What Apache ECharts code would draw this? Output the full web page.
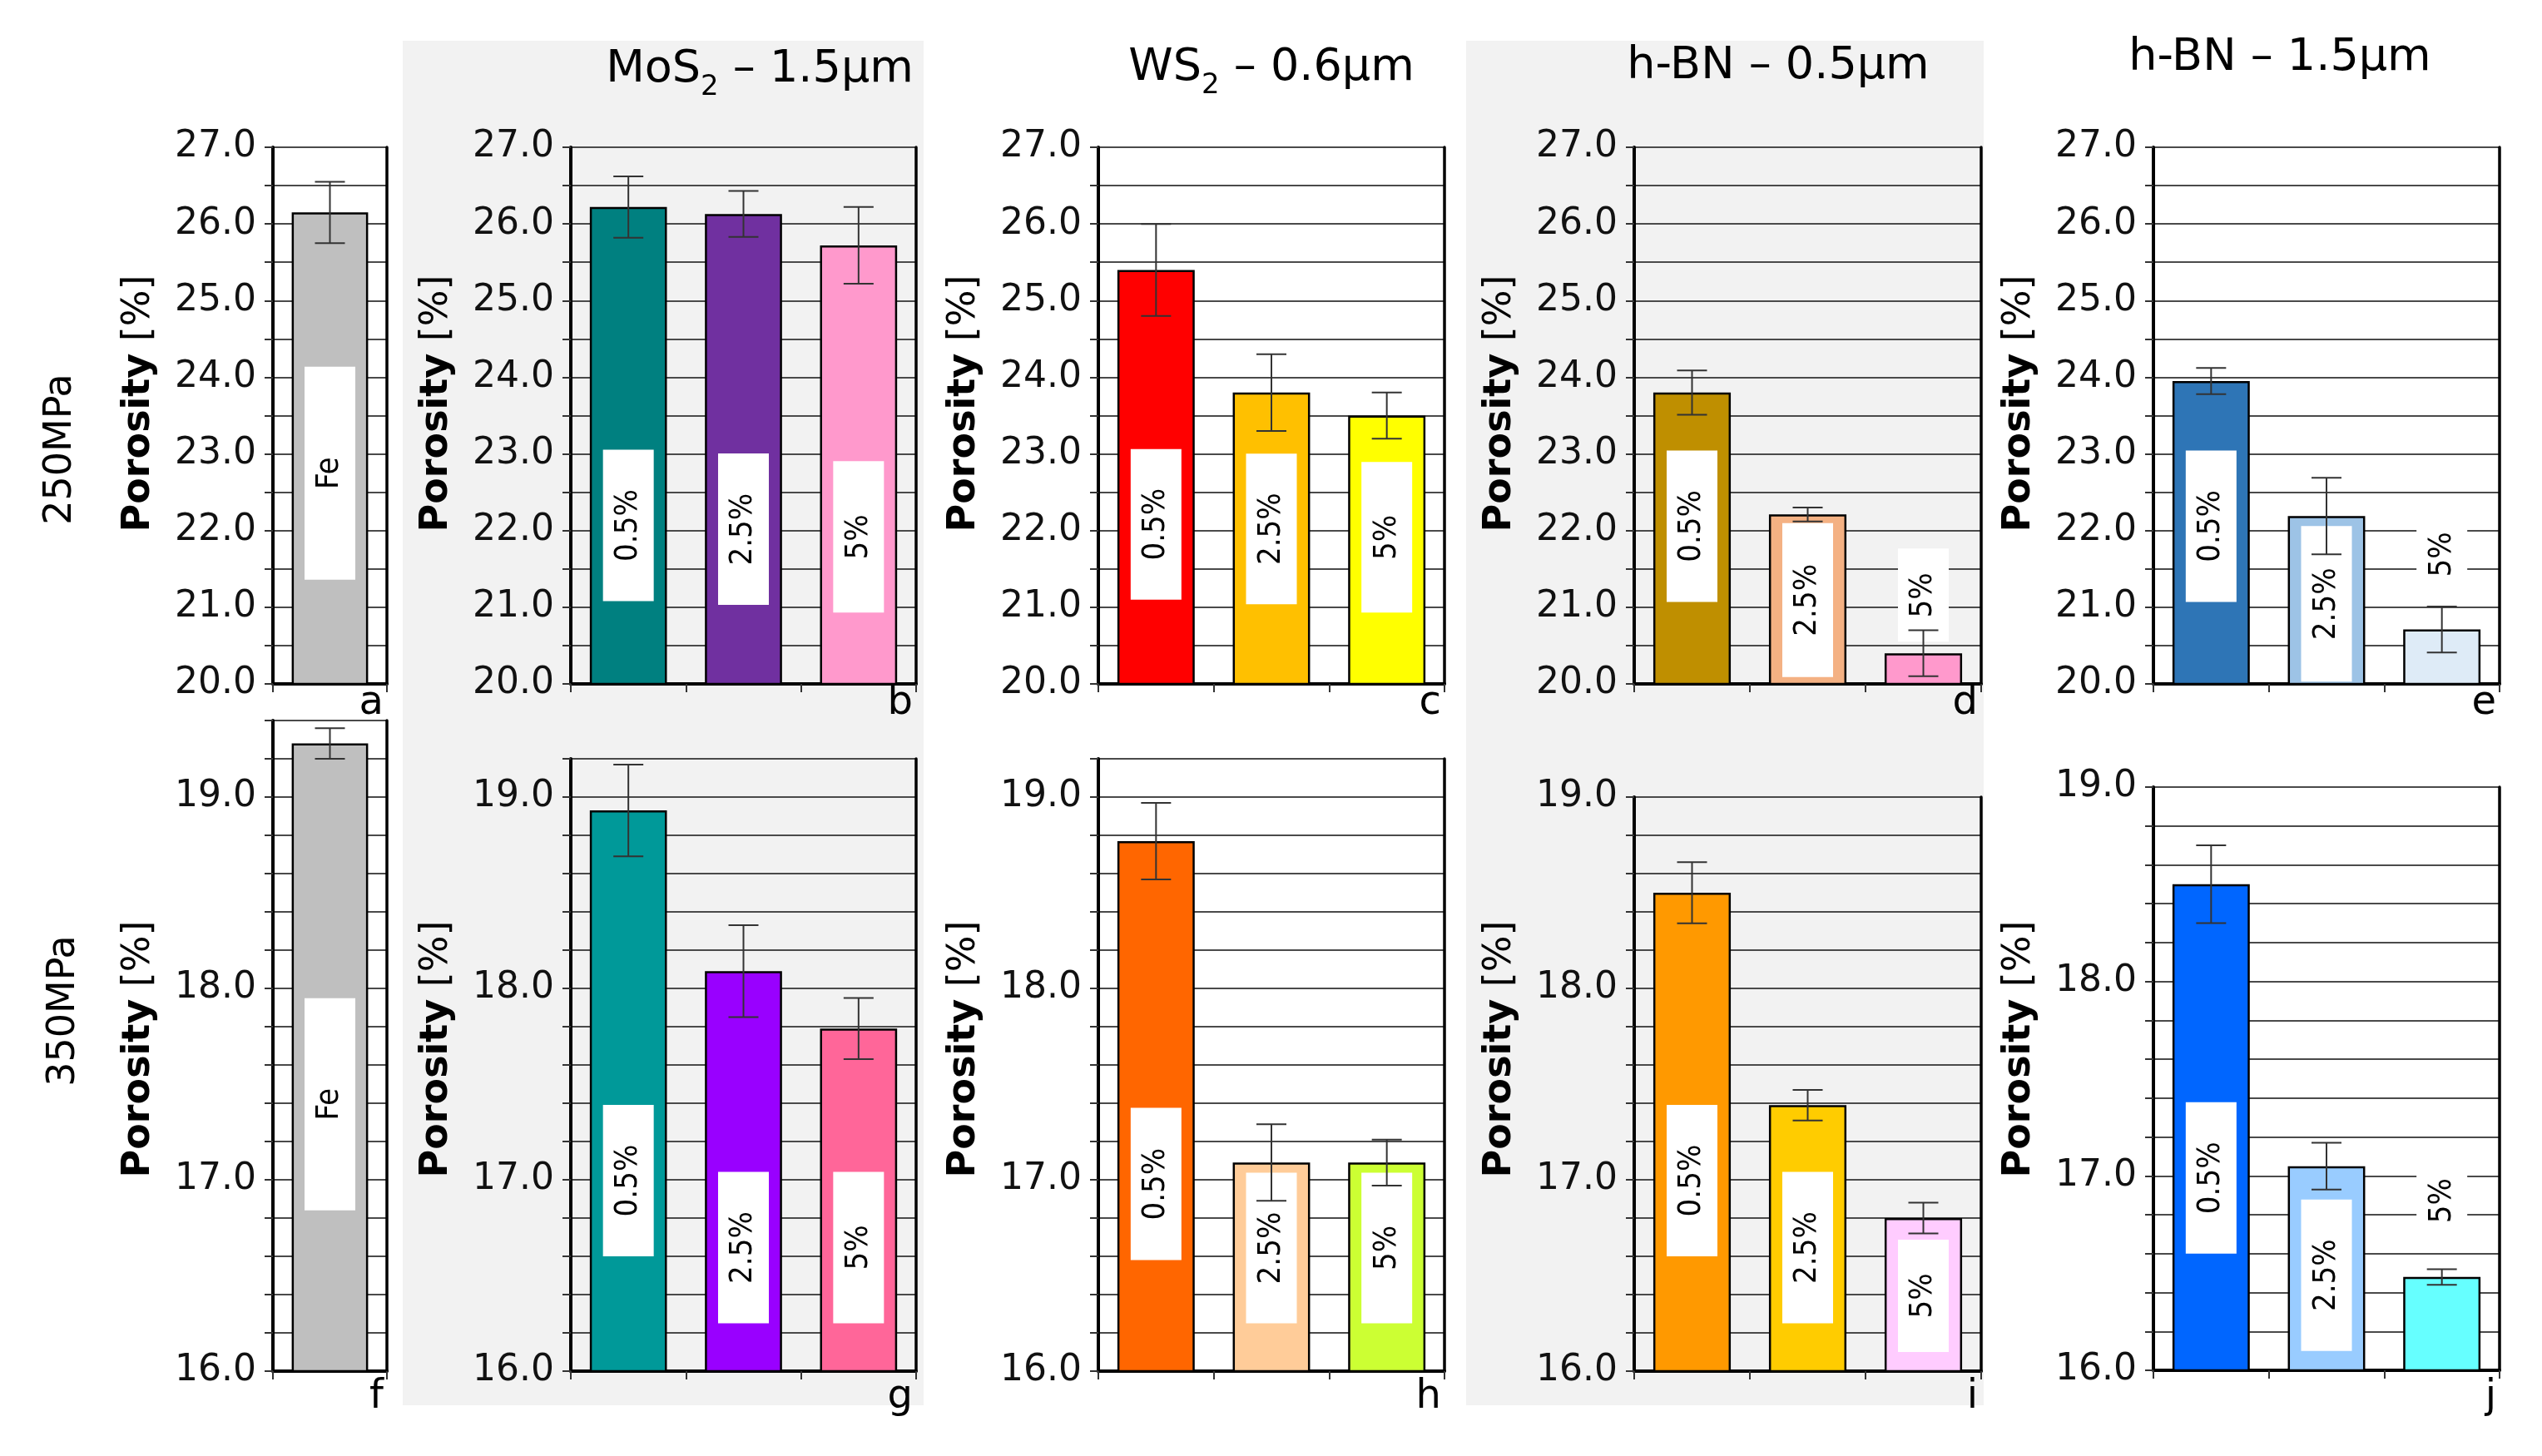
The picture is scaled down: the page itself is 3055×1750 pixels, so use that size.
<!DOCTYPE html>
<html>
<head>
<meta charset="utf-8">
<script src="https://cdn.jsdelivr.net/npm/echarts@6/dist/echarts.min.js"></script>
<style>
  html, body { margin: 0; padding: 0; background: #fff; }
  #chart { width: 3055px; height: 1750px; }
</style>
</head>
<body>
<div id="chart"></div>
<script>
// ---------------- DATA ----------------
const feCategories = ['Fe'];
const additiveCategories = ['0.5%', '2.5%', '5%'];

const yTickLabels250 = ['20.0', '21.0', '22.0', '23.0', '24.0', '25.0', '26.0', '27.0'];
const yTickLabels350 = ['16.0', '17.0', '18.0', '19.0'];

// 250 MPa porosity [%] and error (±)
const porosity250Fe = [26.15];
const error250Fe = [0.40];
const porosity250MoS2 = [26.22, 26.13, 25.72];
const error250MoS2 = [0.40, 0.30, 0.50];
const porosity250WS2 = [25.40, 23.80, 23.50];
const error250WS2 = [0.60, 0.50, 0.30];
const porosity250hBN05 = [23.80, 22.21, 20.40];
const error250hBN05 = [0.29, 0.09, 0.30];
const porosity250hBN15 = [23.95, 22.19, 20.71];
const error250hBN15 = [0.17, 0.50, 0.30];

// 350 MPa porosity [%] and error (±)
const porosity350Fe = [19.28];
const error350Fe = [0.08];
const porosity350MoS2 = [18.93, 18.09, 17.79];
const error350MoS2 = [0.24, 0.24, 0.16];
const porosity350WS2 = [18.77, 17.09, 17.09];
const error350WS2 = [0.20, 0.20, 0.12];
const porosity350hBN05 = [18.50, 17.39, 16.80];
const error350hBN05 = [0.16, 0.08, 0.08];
const porosity350hBN15 = [18.50, 17.05, 16.48];
const error350hBN15 = [0.20, 0.12, 0.04];

const rowLabels = ['250MPa', '350MPa'];
const panelLetters = ['a', 'b', 'c', 'd', 'e', 'f', 'g', 'h', 'i', 'j'];

// ---------------- LAYOUT / STYLE ----------------
const FONT = '"DejaVu Sans", Verdana, sans-serif';
const LABEL_FONT = '"DejaVu Sans Condensed", "DejaVu Sans", sans-serif';
const cols = [
  { x0: 328, x1: 465 },
  { x0: 686, x1: 1101 },
  { x0: 1320, x1: 1736 },
  { x0: 1964, x1: 2381 },
  { x0: 2588, x1: 3004 }
];
const panels = [
  // row 1 (250 MPa)
  { col: 0, top: 177, bottom: 822, min: 20, max: 27, step: 0.5, ticks: yTickLabels250, cats: feCategories, vals: porosity250Fe, errs: error250Fe,
    colors: ['#BFBFBF'], labelBase: [21.36], boxH: [256] },
  { col: 1, top: 177, bottom: 822, min: 20, max: 27, step: 0.5, ticks: yTickLabels250, cats: additiveCategories, vals: porosity250MoS2, errs: error250MoS2,
    colors: ['#008080', '#7030A0', '#FF99CC'], labelBase: [21.08, 21.03, 20.93], boxH: [182, 182, 182] },
  { col: 2, top: 177, bottom: 822, min: 20, max: 27, step: 0.5, ticks: yTickLabels250, cats: additiveCategories, vals: porosity250WS2, errs: error250WS2,
    colors: ['#FF0000', '#FFC000', '#FFFF00'], labelBase: [21.10, 21.04, 20.93], boxH: [181, 181, 181] },
  { col: 3, top: 177, bottom: 822, min: 20, max: 27, step: 0.5, ticks: yTickLabels250, cats: additiveCategories, vals: porosity250hBN05, errs: error250hBN05,
    colors: ['#BF8F00', '#F4B183', '#FF99CC'], labelBase: [21.07, 20.09, 20.55], boxH: [182, 185, 112] },
  { col: 4, top: 177, bottom: 822, min: 20, max: 27, step: 0.5, ticks: yTickLabels250, cats: additiveCategories, vals: porosity250hBN15, errs: error250hBN15,
    colors: ['#2E75B6', '#9DC3E6', '#DEEBF7'], labelBase: [21.07, 20.03, 21.08], boxH: [182, 187, 112] },
  // row 2 (350 MPa)
  { col: 0, top: 866, bottom: 1648, min: 16, max: 19.4, step: 0.2, ticks: yTickLabels350, cats: feCategories, vals: porosity350Fe, errs: error350Fe,
    colors: ['#BFBFBF'], labelBase: [16.84], boxH: [255] },
  { col: 1, top: 912, bottom: 1648, min: 16, max: 19.2, step: 0.2, ticks: yTickLabels350, cats: additiveCategories, vals: porosity350MoS2, errs: error350MoS2,
    colors: ['#009999', '#9900FF', '#FF6699'], labelBase: [16.60, 16.25, 16.25], boxH: [182, 182, 182] },
  { col: 2, top: 912, bottom: 1648, min: 16, max: 19.2, step: 0.2, ticks: yTickLabels350, cats: additiveCategories, vals: porosity350WS2, errs: error350WS2,
    colors: ['#FF6600', '#FFCC99', '#CCFF33'], labelBase: [16.58, 16.25, 16.25], boxH: [183, 181, 181] },
  { col: 3, top: 958, bottom: 1648, min: 16, max: 19.0, step: 0.2, ticks: yTickLabels350, cats: additiveCategories, vals: porosity350hBN05, errs: error350hBN05,
    colors: ['#FF9900', '#FFCC00', '#FFCCFF'], labelBase: [16.60, 16.25, 16.10], boxH: [182, 182, 135] },
  { col: 4, top: 946, bottom: 1647, min: 16, max: 19.0, step: 0.2, ticks: yTickLabels350, cats: additiveCategories, vals: porosity350hBN15, errs: error350hBN15,
    colors: ['#0066FF', '#99CCFF', '#66FFFF'], labelBase: [16.60, 16.10, 16.62], boxH: [182, 182, 118] }
];
const nameCenterY = [485, 1261];
const letterY = [846, 1680];

// ---------------- BUILD OPTION ----------------
const grid = [], xAxis = [], yAxis = [], series = [], graphic = [];

// grey panel backgrounds
graphic.push({ type: 'rect', z: -100, silent: true, shape: { x: 484, y: 49, width: 626, height: 1640 }, style: { fill: '#F2F2F2' } });
graphic.push({ type: 'rect', z: -100, silent: true, shape: { x: 1762, y: 49, width: 622, height: 1640 }, style: { fill: '#F2F2F2' } });

panels.forEach((p, i) => {
  const c = cols[p.col];
  const row = i < 5 ? 0 : 1;
  grid.push({ left: c.x0, top: p.top, width: c.x1 - c.x0, height: p.bottom - p.top, containLabel: false, outerBoundsMode: 'none' });
  xAxis.push({
    type: 'category', gridIndex: i, data: p.cats, boundaryGap: true,
    axisLine: { show: true, onZero: false, lineStyle: { color: '#000', width: 4 } },
    axisTick: { show: true, length: 10, lineStyle: { color: '#333', width: 2 } },
    axisLabel: { show: false }, splitLine: { show: false }
  });
  const shiftUp = (p.top + p.bottom) / 2 - nameCenterY[row];
  const pad = shiftUp >= 0 ? [0, 0, 0, 2 * shiftUp] : [0, -2 * shiftUp, 0, 0];
  yAxis.push({
    type: 'value', gridIndex: i, min: p.min, max: p.max, interval: p.step, position: 'left',
    name: '{b|Porosity} [%]', nameLocation: 'middle', nameGap: 138, nameRotate: 90, nameMoveOverlap: false,
    nameTextStyle: { fontFamily: FONT, fontSize: 46, color: '#000', padding: pad,
      rich: { b: { fontFamily: FONT, fontSize: 46, fontWeight: 'bold', color: '#000' } } },
    axisLine: { show: true, lineStyle: { color: '#000', width: 4 } },
    axisTick: { show: true, length: 10, lineStyle: { color: '#333', width: 2 } },
    axisLabel: { show: true, margin: 20, fontFamily: FONT, fontSize: 44, color: '#111',
      formatter: v => (p.ticks.includes(v.toFixed(1)) ? v.toFixed(1) : '') , hideOverlap: false},
    splitLine: { show: true, lineStyle: { color: '#4a4a4a', width: 2 } }
  });
  yAxis.push({
    type: 'value', gridIndex: i, min: p.min, max: p.max, interval: p.step, position: 'right',
    axisLine: { show: true, lineStyle: { color: '#000', width: 3.5 } },
    axisTick: { show: false }, axisLabel: { show: false }, splitLine: { show: false }
  });
  series.push({
    type: 'bar', xAxisIndex: i, yAxisIndex: 2 * i, z: 2, barWidth: '67%',
    data: p.vals.map((v, k) => ({ value: v, itemStyle: { color: p.colors[k] } })),
    itemStyle: { borderColor: '#000', borderWidth: 2.5 },
    emphasis: { disabled: true }, animation: false
  });
  // rotated white label boxes
  series.push({
    type: 'custom', xAxisIndex: i, yAxisIndex: 2 * i, z: 3, animation: false, silent: true,
    encode: { x: 0, y: 1 },
    data: p.cats.map((cat, k) => [k, p.labelBase[k], p.boxH[k]]),
    renderItem: (params, api) => {
      const k = api.value(0);
      const base = api.coord([k, api.value(1)]);
      const h = api.value(2);
      const w = 61;
      return {
        type: 'group',
        children: [
          { type: 'rect', shape: { x: base[0] - w / 2, y: base[1] - h, width: w, height: h }, style: { fill: '#fff' } },
          { type: 'text', x: base[0], y: base[1] - h / 2, rotation: Math.PI / 2,
            style: { text: p.cats[k], font: '38px ' + LABEL_FONT, fill: '#000', align: 'center', verticalAlign: 'middle' } }
        ]
      };
    }
  });
  // error bars
  series.push({
    type: 'custom', xAxisIndex: i, yAxisIndex: 2 * i, z: 4, animation: false, silent: true,
    encode: { x: 0, y: 1 },
    data: p.vals.map((v, k) => [k, v, p.errs[k]]),
    renderItem: (params, api) => {
      const k = api.value(0), v = api.value(1), e = api.value(2);
      const hi = api.coord([k, v + e]);
      const lo = api.coord([k, v - e]);
      const cw = 18;
      const st = { stroke: '#333', lineWidth: 2 };
      return {
        type: 'group',
        children: [
          { type: 'line', shape: { x1: hi[0], y1: hi[1], x2: lo[0], y2: lo[1] }, style: st },
          { type: 'line', shape: { x1: hi[0] - cw, y1: hi[1], x2: hi[0] + cw, y2: hi[1] }, style: st },
          { type: 'line', shape: { x1: lo[0] - cw, y1: lo[1], x2: lo[0] + cw, y2: lo[1] }, style: st }
        ]
      };
    }
  });
  // panel letter
  graphic.push({ type: 'text', x: c.x1 - 4, y: letterY[row], silent: true,
    style: { text: panelLetters[i], font: '48px ' + FONT, fill: '#000', align: 'right', verticalAlign: 'middle' } });
});

// column titles
const titleRich = {
  n: { fontFamily: FONT, fontSize: 54, color: '#000', lineHeight: 76, verticalAlign: 'middle' },
  s: { fontFamily: FONT, fontSize: 34, color: '#000', lineHeight: 34, verticalAlign: 'bottom' }
};
const titles = [
  { text: '{n|MoS}{s|2}{n| – 1.5μm}', x: 913, y: 84 },
  { text: '{n|WS}{s|2}{n| – 0.6μm}', x: 1528, y: 82 },
  { text: '{n|h-BN – 0.5μm}', x: 2137, y: 80 },
  { text: '{n|h-BN – 1.5μm}', x: 2740, y: 70 }
];
titles.forEach(t => graphic.push({ type: 'text', x: t.x, y: t.y, silent: true,
  style: { text: t.text, rich: titleRich, align: 'center', verticalAlign: 'middle' } }));

// row labels
graphic.push({ type: 'text', x: 73, y: 540, rotation: Math.PI / 2, silent: true,
  style: { text: rowLabels[0], font: '46px ' + FONT, fill: '#000', align: 'center', verticalAlign: 'middle' } });
graphic.push({ type: 'text', x: 77, y: 1215, rotation: Math.PI / 2, silent: true,
  style: { text: rowLabels[1], font: '46px ' + FONT, fill: '#000', align: 'center', verticalAlign: 'middle' } });

const chart = echarts.init(document.getElementById('chart'), null, { renderer: 'canvas', width: 3055, height: 1750 });
chart.setOption({
  backgroundColor: '#fff',
  animation: false,
  grid, xAxis, yAxis, series, graphic
});
</script>
</body>
</html>
